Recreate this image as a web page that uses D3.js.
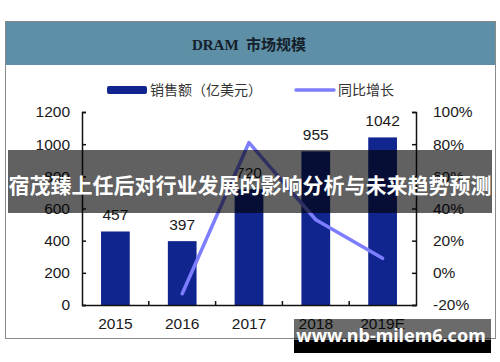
<!DOCTYPE html>
<html><head><meta charset="utf-8">
<script src="https://cdn.jsdelivr.net/npm/d3@7"></script>
<style>html,body{margin:0;padding:0;background:#fff;}svg{display:block;}</style>
</head><body>
<svg id="c" width="500" height="362"></svg>
<script>
const title = "DRAM\u00a0\u00a0市场规模";
const categories = ["2015","2016","2017","2018","2019E"];
const sales = [457, 397, 720, 955, 1042];
const growthYears = ["2016","2017","2018","2019E"];
const growth = [-13, 81, 33, 9];
const leftTicks = [0,200,400,600,800,1000,1200];
const rightTicks = [-20,0,20,40,60,80,100];
const legendLabels = ["销售额（亿美元）", "同比增长"];
const bannerText = "宿茂臻上任后对行业发展的影响分析与未来趋势预测";
const watermark = "www.nb-milem6.com";

const barColor = "#11258f", lineColor = "#7d7dff";
const svg = d3.select("#c");
const plotL = 82, plotR = 416, plotT = 112, plotB = 305;
const numFont = "'Liberation Sans', Arial, sans-serif";
const serifFont = "'Liberation Serif', 'DejaVu Serif', 'Noto Sans CJK SC', serif";

// frame + header
svg.append("rect").attr("x",5.5).attr("y",21.5).attr("width",490).attr("height",317)
  .attr("fill","#fff").attr("stroke","#8a8a8a").attr("stroke-width",1);
svg.append("rect").attr("x",6).attr("y",22).attr("width",489).attr("height",43).attr("fill","#5d8fa7");
svg.append("text").attr("x",249).attr("y",50).attr("text-anchor","middle")
  .attr("font-family",serifFont).attr("font-size",15).attr("font-weight","bold").attr("fill","#15202a").text(title);

// legend
svg.append("rect").attr("x",107).attr("y",86).attr("width",40).attr("height",8).attr("rx",2).attr("fill",barColor);
svg.append("text").attr("x",150).attr("y",95).attr("font-family",serifFont).attr("font-size",14).attr("fill","#333").text(legendLabels[0]);
svg.append("line").attr("x1",296).attr("x2",334).attr("y1",90).attr("y2",90)
  .attr("stroke",lineColor).attr("stroke-width",3.5).attr("stroke-linecap","round");
svg.append("text").attr("x",338).attr("y",95).attr("font-family",serifFont).attr("font-size",14).attr("fill","#333").text(legendLabels[1]);

// scales
const xCat = d3.scaleBand().domain(categories).range([plotL, plotR]).padding(0);
const xBar = d3.scaleBand().domain(categories).range([plotL, plotR]).paddingInner(0.57).paddingOuter(0.285);
const yL = d3.scaleLinear().domain([0,1200]).range([plotB, plotT]);
const yR = d3.scaleLinear().domain([-20,100]).range([plotB, plotT]);

// bars
svg.append("g").selectAll("rect").data(categories).join("rect")
  .attr("x", d => xBar(d)).attr("width", xBar.bandwidth())
  .attr("y", (d,i) => yL(sales[i])).attr("height", (d,i) => plotB - yL(sales[i]))
  .attr("fill", barColor);
svg.append("g").selectAll("text").data(categories).join("text")
  .attr("x", d => xCat(d) + xCat.bandwidth()/2).attr("y", (d,i) => yL(sales[i]) - 11)
  .attr("text-anchor","middle").attr("font-family",numFont).attr("font-size",15.5).attr("fill","#1a1a1a")
  .text((d,i) => sales[i]);

// axes
const axL = svg.append("g").attr("transform",`translate(${plotL},0)`)
  .call(d3.axisLeft(yL).tickValues(leftTicks).tickSizeInner(-4).tickSizeOuter(-4).tickPadding(12).tickFormat(d => String(d)));
const axR = svg.append("g").attr("transform",`translate(${plotR},0)`)
  .call(d3.axisRight(yR).tickValues(rightTicks).tickSizeInner(-4).tickSizeOuter(-4).tickPadding(17).tickFormat(d => d + "%"));
const axB = svg.append("g").attr("transform",`translate(0,${plotB})`)
  .call(d3.axisBottom(xCat).tickSize(0).tickPadding(13));
[axL, axR, axB].forEach(a => {
  a.selectAll("text").attr("font-family",numFont).attr("font-size",15.5).attr("fill","#1a1a1a");
  a.selectAll("path,line").attr("stroke","#111").attr("stroke-width",1.5);
});
// inner category boundary ticks (pointing up)
svg.append("g").selectAll("line").data(categories.slice(1)).join("line")
  .attr("x1", d => xCat(d)).attr("x2", d => xCat(d)).attr("y1", plotB).attr("y2", plotB - 4)
  .attr("stroke","#111").attr("stroke-width",1.5);

// growth line
const line = d3.line().x(d => xCat(d.c) + xCat.bandwidth()/2).y(d => yR(d.v));
svg.append("path").datum(growthYears.map((c,i) => ({c, v: growth[i]})))
  .attr("d", line).attr("fill","none").attr("stroke",lineColor).attr("stroke-width",3.5)
  .attr("stroke-linecap","round").attr("stroke-linejoin","round");

// overlay banner
svg.append("rect").attr("x",8).attr("y",150).attr("width",484).attr("height",63).attr("fill","rgba(0,0,0,0.62)");
svg.append("text").attr("x",250).attr("y",193).attr("text-anchor","middle")
  .attr("font-family","'Noto Sans CJK SC', sans-serif").attr("font-weight","bold").attr("font-size",21)
  .attr("fill","#fff").text(bannerText);

// watermark
svg.append("rect").attr("x",294).attr("y",319).attr("width",197).attr("height",21).attr("fill","rgba(0,0,0,0.58)");
svg.append("rect").attr("x",294).attr("y",340).attr("width",197).attr("height",13).attr("fill","#000");
svg.append("text").attr("x",391).attr("y",342).attr("text-anchor","middle")
  .attr("font-family","'Noto Sans', 'Open Sans', sans-serif").attr("font-weight","bold").attr("font-size",18)
  .attr("fill","#fff").text(watermark);
</script>
</body></html>
